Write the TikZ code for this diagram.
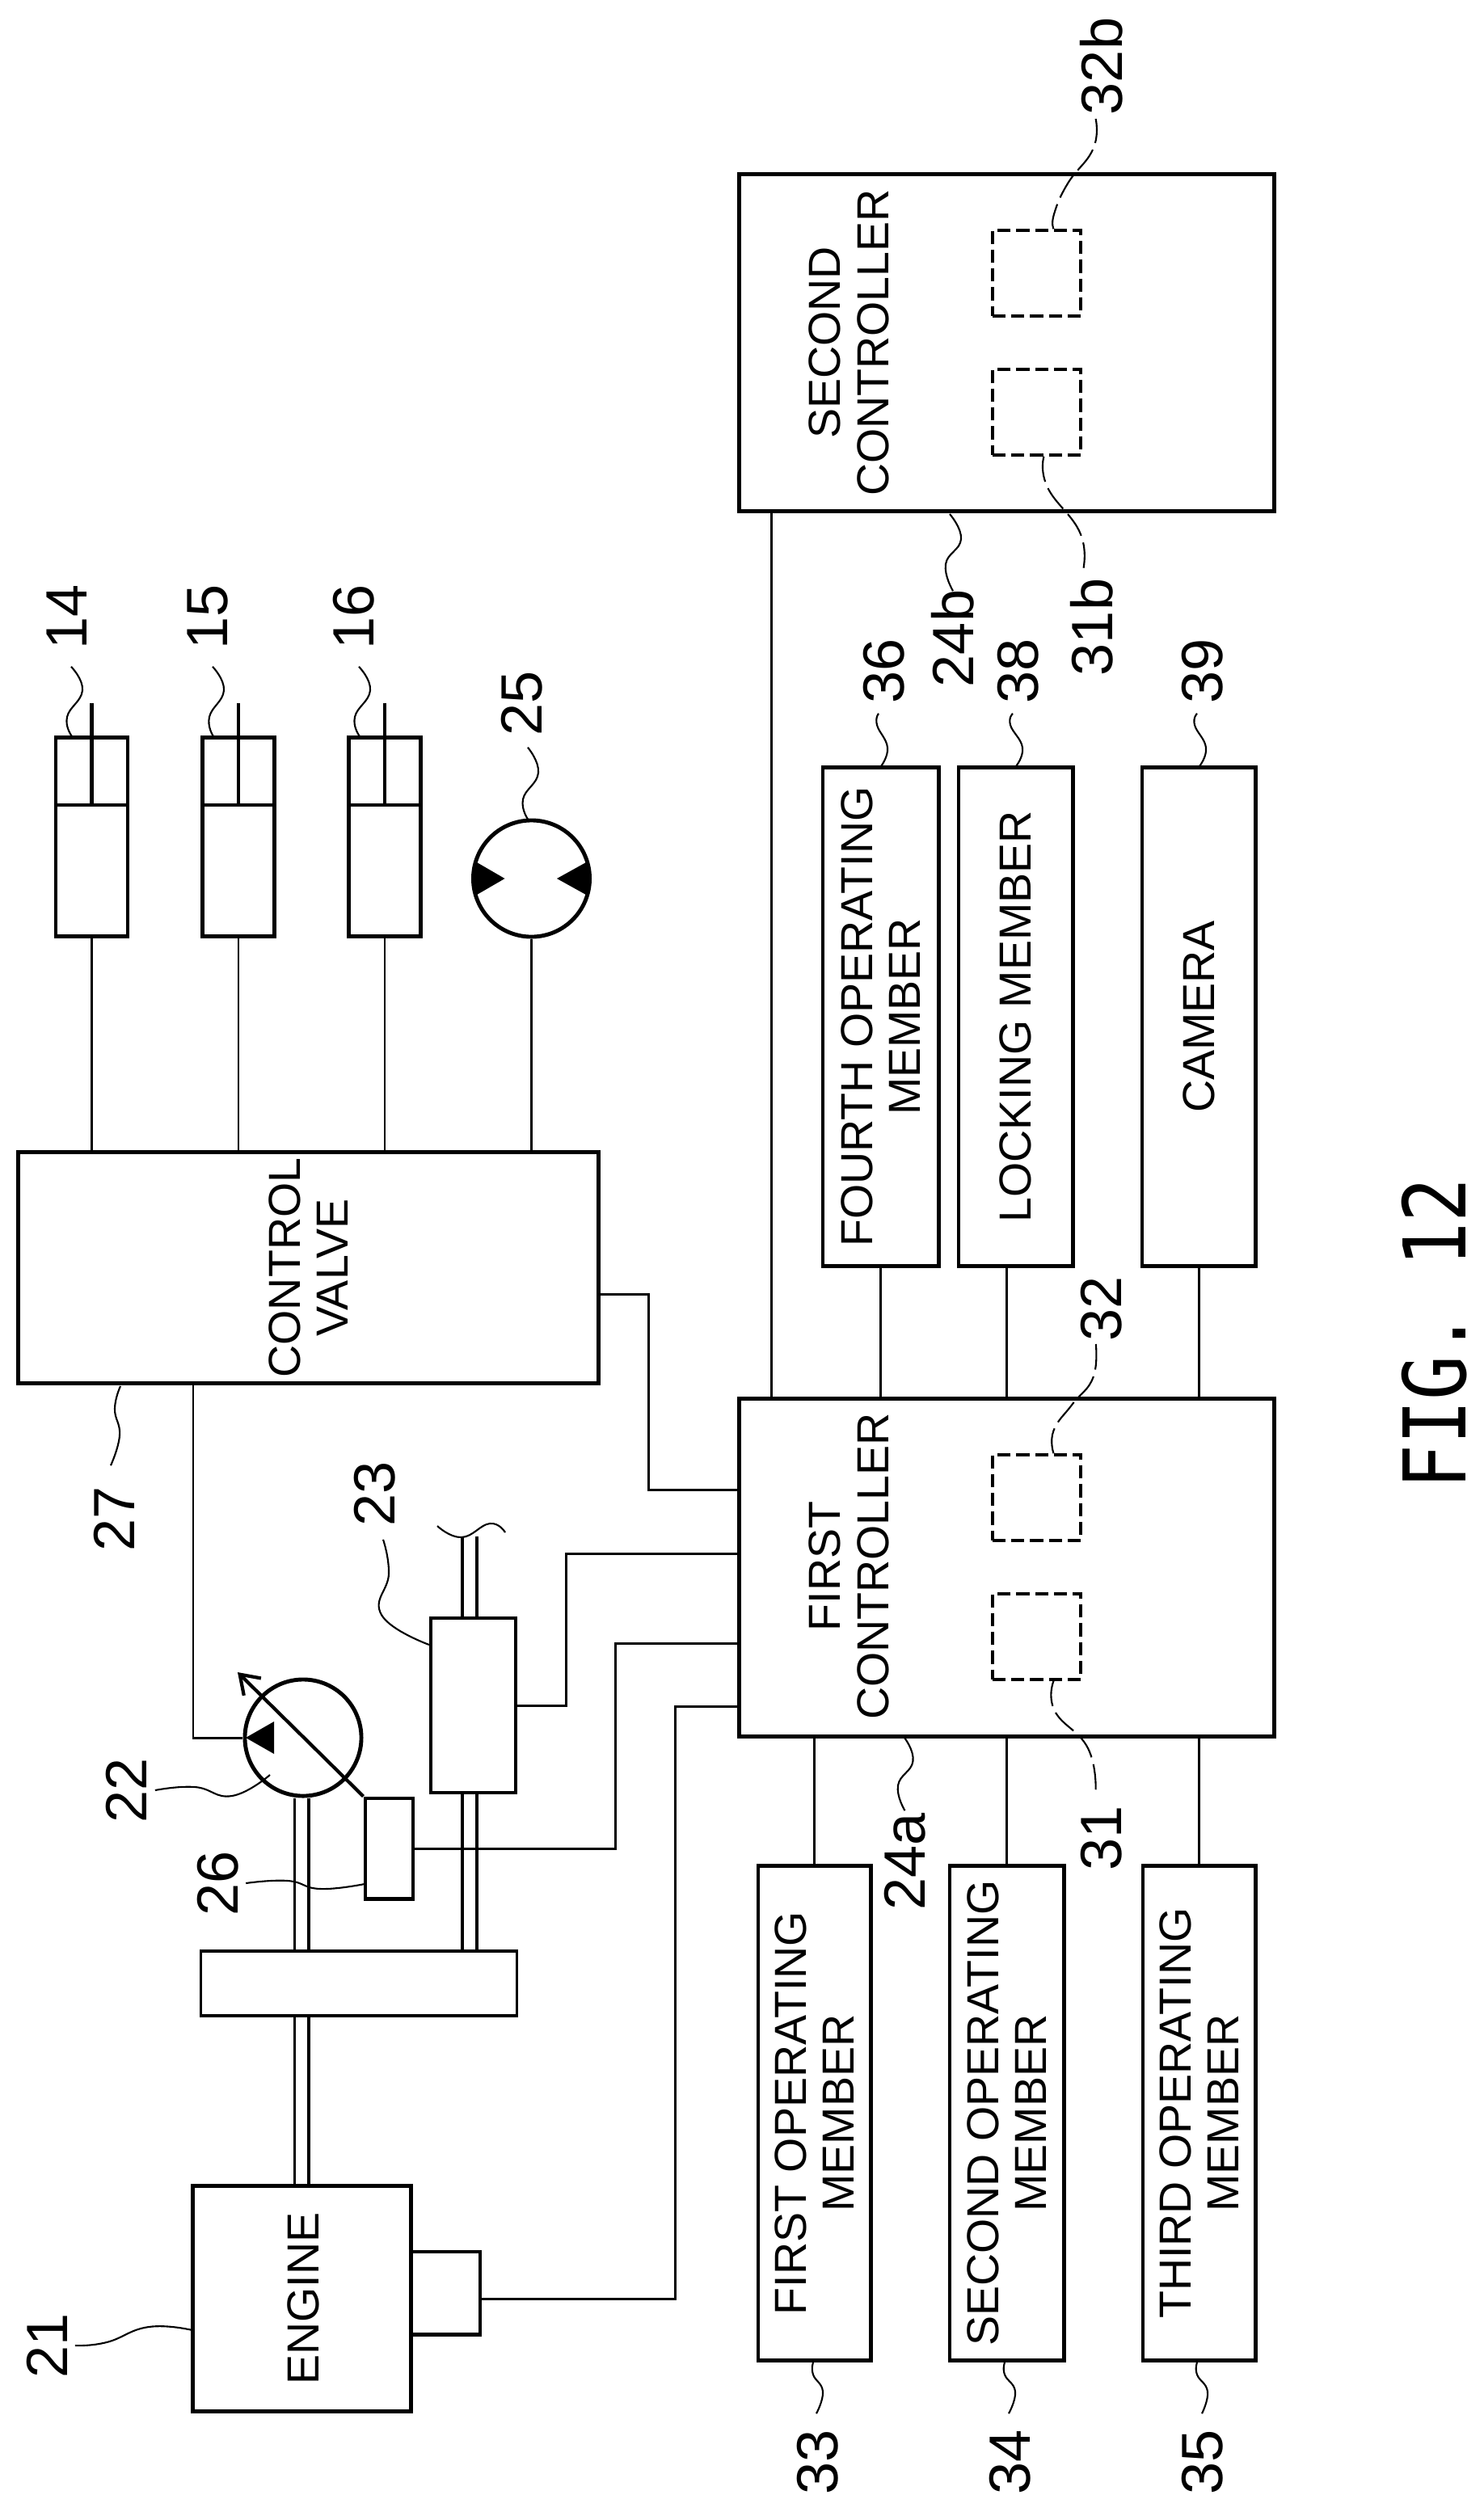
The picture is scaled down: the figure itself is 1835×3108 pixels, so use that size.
\documentclass[tikz,border=0pt]{standalone}
\usepackage{fontspec}
\setmainfont{Liberation Sans}
\newfontfamily\figfont{DejaVu Sans Mono}
\usetikzlibrary{arrows.meta}
\newcommand{\boxfont}{\fontsize{15.8}{17}\selectfont}
\newcommand{\numfont}{\fontsize{20.5}{22}\selectfont}
\tikzset{
  heavy/.style={draw,line width=1.4pt,inner sep=0pt,minimum width=#1},
  lightbox/.style={draw,line width=1pt,inner sep=0pt},
  textbox/.style={draw,line width=1.4pt,inner sep=0pt,rotate=90,align=center,font=\boxfont},
  dashbox/.style={draw,line width=1pt,dash pattern=on 4.6pt off 2pt,inner sep=0pt,minimum width=1.09cm,minimum height=1.06cm},
  word/.style={rotate=90,inner sep=0pt,align=center,font=\boxfont},
  num/.style={rotate=90,inner sep=0pt,font=\numfont},
  sig/.style={line width=.85pt},
  shaft/.style={line width=1pt},
  lead/.style={line width=.6pt},
  hiddenlead/.style={line width=.6pt,dash pattern=on 9pt off 2.5pt}
}
\begin{document}
\begin{tikzpicture}[x=0.01cm,y=-0.01cm]
  \useasboundingbox (0,0) rectangle (1835,3108);

  % cylinders and motor
  \node[heavy=.89cm,minimum height=2.45cm] (cylA) at (113.5,1035.5) {};
  \node[heavy=.89cm,minimum height=2.45cm] (cylB) at (295,1035.5) {};
  \node[heavy=.89cm,minimum height=2.45cm] (cylC) at (476,1035.5) {};
  \node[circle,heavy=1.44cm] (motor) at (657.5,1087) {};
  \coordinate (pistA) at (113.5,996);
  \coordinate (pistB) at (295,996);
  \coordinate (pistC) at (476,996);
  \coordinate (rodtop) at (0,870);
  \draw[line width=1.4pt] (pistA -| cylA.west) -- (pistA -| cylA.east);
  \draw[line width=1.4pt] (pistB -| cylB.west) -- (pistB -| cylB.east);
  \draw[line width=1.4pt] (pistC -| cylC.west) -- (pistC -| cylC.east);
  \draw[line width=1.4pt] (pistA) -- (pistA |- rodtop);
  \draw[line width=1.4pt] (pistB) -- (pistB |- rodtop);
  \draw[line width=1.4pt] (pistC) -- (pistC |- rodtop);
  \path[fill,black] (624.5,1087) -- (590,1067) -- (585.5,1087) -- (590,1107) -- cycle;
  \path[fill,black] (689,1087) -- (725,1067) -- (729.5,1087) -- (725,1107) -- cycle;

  % valve and lines to it
  \node[textbox,minimum width=2.85cm,minimum height=7.17cm] (valve) at (381.5,1568.5) {CONTROL\\VALVE};
  \draw[sig] (cylA.south) -- (cylA.south |- valve.east);
  \draw[sig] (cylB.south) -- (cylB.south |- valve.east);
  \draw[sig] (cylC.south) -- (cylC.south |- valve.east);
  \draw[sig] (motor.south) -- (motor.south |- valve.east);

  % pump, sensor, transmission
  \node[circle,heavy=1.44cm] (pump) at (375,2150) {};
  \node[heavy=.59cm,minimum height=1.24cm] (sensor) at (481.5,2287) {};
  \node[lightbox,minimum width=1.05cm,minimum height=2.16cm] (trans) at (585.5,2110) {};
  \node[lightbox,minimum width=3.91cm,minimum height=.8cm] (gear) at (444,2454) {};
  \node[heavy=2.69cm,minimum height=2.78cm] (engine) at (373.5,2844) {};
  \node[word] (enginetxt) at (375,2844) {ENGINE};
  \node[heavy=.86cm,minimum height=1.02cm] (gov) at (551,2837) {};
  \path[fill,black] (304,2150) -- (339,2130) -- (339,2170) -- cycle;
  \coordinate (tilt) at (294,2069);
  \draw[line width=1.2pt,-{Straight Barb[length=.22cm,width=.3cm]}] (sensor.north west) -- (tilt);
  \coordinate (pipe) at (239,2150);
  \draw[sig] (pipe |- valve.west) -- (pipe) -- (pump.west);

  % shafts
  \coordinate (shaftA) at (364.5,2300);
  \coordinate (shaftB) at (382,2300);
  \coordinate (shaftC) at (572,1901);
  \coordinate (shaftD) at (590,1901);
  \draw[shaft] (shaftA |- pump.south) -- (shaftA |- gear.north);
  \draw[shaft] (shaftB |- pump.south) -- (shaftB |- gear.north);
  \draw[shaft] (shaftA |- gear.south) -- (shaftA |- engine.north);
  \draw[shaft] (shaftB |- gear.south) -- (shaftB |- engine.north);
  \draw[shaft] (shaftC) -- (shaftC |- trans.north);
  \draw[shaft] (shaftD) -- (shaftD |- trans.north);
  \draw[shaft] (shaftC |- trans.south) -- (shaftC |- gear.north);
  \draw[shaft] (shaftD |- trans.south) -- (shaftD |- gear.north);
  \coordinate (cutA) at (541,1888);
  \coordinate (cutB) at (625,1896);
  \draw[lead] plot[smooth,tension=.8] coordinates {(cutA) (571,1902) (606,1885) (cutB)};

  % controllers
  \node[heavy=6.61cm,minimum height=4.17cm] (second) at (1245.5,424) {};
  \node[heavy=6.61cm,minimum height=4.17cm] (first) at (1245.5,1939.5) {};
  \node[word] (secondtxt) at (1050,424) {SECOND\\CONTROLLER};
  \node[word] (firsttxt) at (1050,1938) {FIRST\\CONTROLLER};
  \node[dashbox] (secondB) at (1282.5,338) {};
  \node[dashbox] (secondA) at (1282.5,510) {};
  \node[dashbox] (firstB) at (1282.5,1853) {};
  \node[dashbox] (firstA) at (1282.5,2025) {};
  \coordinate (bus) at (954,1000);
  \draw[sig] (bus |- second.south) -- (bus |- first.north);

  % members
  \node[textbox,minimum width=6.16cm,minimum height=1.43cm] (fourth) at (1089.5,1258) {FOURTH OPERATING\\MEMBER};
  \node[textbox,minimum width=6.16cm,minimum height=1.41cm] (locking) at (1256.5,1258) {LOCKING MEMBER};
  \node[textbox,minimum width=6.16cm,minimum height=1.40cm] (camera) at (1483,1258) {CAMERA};
  \node[textbox,minimum width=6.11cm,minimum height=1.39cm] (opA) at (1007.5,2614.5) {FIRST OPERATING\\MEMBER};
  \node[textbox,minimum width=6.11cm,minimum height=1.41cm] (opB) at (1245.5,2614.5) {SECOND OPERATING\\MEMBER};
  \node[textbox,minimum width=6.11cm,minimum height=1.39cm] (opC) at (1483.5,2614.5) {THIRD OPERATING\\MEMBER};
  \coordinate (locktap) at (1245,1566);
  \draw[sig] (fourth.west) -- (fourth.west |- first.north);
  \draw[sig] (locktap) -- (locktap |- first.north);
  \draw[sig] (camera.west) -- (camera.west |- first.north);
  \draw[sig] (opA.east) -- (opA.east |- first.south);
  \draw[sig] (opB.east) -- (opB.east |- first.south);
  \draw[sig] (opC.east) -- (opC.east |- first.south);

  % lines into first controller
  \coordinate (valveA) at (802,1601);
  \coordinate (valveB) at (802,1843);
  \draw[sig] (valveA -| valve.south) -- (valveA) -- (valveB) -- (valveB -| first.west);
  \coordinate (transA) at (700,2110);
  \coordinate (transB) at (700,1922);
  \draw[sig] (trans.east) -- (transA) -- (transB) -- (transB -| first.west);
  \coordinate (sensA) at (761,2287);
  \coordinate (sensB) at (761,2033);
  \draw[sig] (sensor.east) -- (sensA) -- (sensB) -- (sensB -| first.west);
  \coordinate (govA) at (835,2844);
  \coordinate (govB) at (835,2111);
  \draw[sig] (govA -| gov.east) -- (govA) -- (govB) -- (govB -| first.west);

  % reference numbers
  \node[num] (n14) at (83,763) {14};
  \node[num] (n15) at (257,763) {15};
  \node[num] (n16) at (438,763) {16};
  \node[num] (n25) at (646,870) {25};
  \node[num] (n27) at (141,1879) {27};
  \node[num] (n23) at (464,1848) {23};
  \node[num] (n22) at (156,2215) {22};
  \node[num] (n26) at (270,2330) {26};
  \node[num] (n21) at (58,2902) {21};
  \node[num] (n33) at (1012,3046) {33};
  \node[num] (n34) at (1250,3046) {34};
  \node[num] (n35) at (1488,3046) {35};
  \node[num] (n24a) at (1119.5,2303) {24a};
  \node[num] (n31) at (1363,2274) {31};
  \node[num] (n32) at (1363,1619) {32};
  \node[num] (n31b) at (1351,776) {31b};
  \node[num] (n32b) at (1363,82) {32b};
  \node[num] (n24b) at (1179,790) {24b};
  \node[num] (n36) at (1094,830) {36};
  \node[num] (n38) at (1260,830) {38};
  \node[num] (n39) at (1488,830) {39};
  \node[rotate=90,inner sep=0pt] (figname) at (1775,1650) {\fontsize{30.4}{32}\figfont\scalebox{.855}[1]{FIG. 12}};

  % leaders
  \draw[lead] plot[smooth,tension=.8] coordinates {([xshift=.05cm,yshift=-.21cm]n14.west) (102,854) (83,887) (89,911)};
  \draw[lead] plot[smooth,tension=.8] coordinates {([xshift=.06cm,yshift=-.21cm]n15.west) (277,854) (259,887) (264,911)};
  \draw[lead] plot[smooth,tension=.8] coordinates {([xshift=.06cm,yshift=-.21cm]n16.west) (458,854) (439,887) (445,911)};
  \draw[lead] plot[smooth,tension=.8] coordinates {([xshift=.07cm,yshift=-.14cm]n25.west) (666,956) (647,989) (654,1015)};
  \draw[lead] plot[smooth,tension=.8] coordinates {(149,1715) (142,1743) (148,1776) ([xshift=-.04cm,yshift=.25cm]n27.east)};
  \draw[lead] plot[smooth,tension=.8] coordinates {([xshift=.1cm,yshift=-.16cm]n23.west) (481,1947) (472,1998) (531,2035)};
  \draw[lead] plot[smooth,tension=.8] coordinates {([xshift=.1cm]n22.south) (241,2211) (287,2222) (334,2196)};
  \draw[lead] plot[smooth,tension=.8] coordinates {([xshift=.08cm]n26.south) (356,2327) (396,2337) (451,2331)};
  \draw[lead] plot[smooth,tension=.8] coordinates {([xshift=.09cm]n21.south) (132,2898) (184,2879) (238,2883)};
  \draw[lead] plot[smooth,tension=.8] coordinates {(1006,2923) (1006,2938) (1018,2959) ([xshift=-.02cm,yshift=.19cm]n33.east)};
  \draw[lead] plot[smooth,tension=.8] coordinates {(1243,2923) (1243,2938) (1256,2959) ([xshift=-.02cm,yshift=.19cm]n34.east)};
  \draw[lead] plot[smooth,tension=.8] coordinates {(1481,2923) (1481,2938) (1494,2959) ([xshift=-.01cm,yshift=.19cm]n35.east)};
  \draw[lead] plot[smooth,tension=.8] coordinates {([yshift=.02cm]n24a.east) (1111,2209) (1129.5,2179) (1119,2150)};
  \draw[lead] plot[smooth,tension=.8] coordinates {([yshift=-.02cm]n24b.east) (1170,698) (1189,667) (1175,636)};
  \draw[lead] plot[smooth,tension=.8] coordinates {([xshift=-.07cm,yshift=-.12cm]n36.west) (1085,897) (1098,925) (1090,948)};
  \draw[lead] plot[smooth,tension=.8] coordinates {([xshift=-.07cm,yshift=-.12cm]n38.west) (1250,897) (1265,925) (1257,948)};
  \draw[lead] plot[smooth,tension=.8] coordinates {([xshift=-.07cm,yshift=-.12cm]n39.west) (1478,897) (1492,925) (1484,948)};
  \draw[hiddenlead] plot[smooth,tension=.8] coordinates {([xshift=.21cm]secondB.north) (1304,265) (1321,227) (1352.5,184) (1355.6,147)};
  \draw[hiddenlead] plot[smooth,tension=.8] coordinates {([xshift=.09cm]secondA.south) (1296,603) (1337,661) (1339,710)};
  \draw[hiddenlead] plot[smooth,tension=.8] coordinates {([xshift=.21cm]firstB.north) (1303.5,1770) (1327,1737) (1352.5,1704) (1355.6,1661)};
  \draw[hiddenlead] plot[smooth,tension=.8] coordinates {([xshift=.21cm]firstA.south) (1305,2117) (1346,2163) (1355.6,2217)};
\end{tikzpicture}
\end{document}
